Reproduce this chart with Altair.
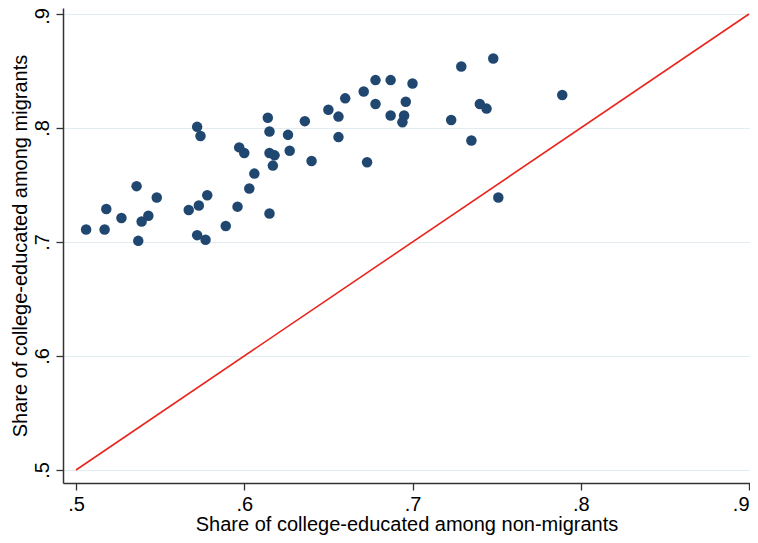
import altair as alt
import pandas as pd

non_migrants = [0.506, 0.517, 0.518, 0.527, 0.536, 0.537, 0.539, 0.543, 0.548, 0.567,
                0.572, 0.572, 0.573, 0.574, 0.577, 0.578, 0.589, 0.596, 0.597, 0.600,
                0.603, 0.606, 0.614, 0.615, 0.615, 0.615, 0.617, 0.618, 0.626, 0.627,
                0.636, 0.640, 0.650, 0.656, 0.656, 0.660, 0.671, 0.673, 0.678, 0.678,
                0.687, 0.687, 0.694, 0.695, 0.696, 0.700, 0.723, 0.729, 0.735, 0.740,
                0.744, 0.748, 0.751, 0.789]
migrants = [0.711, 0.711, 0.729, 0.721, 0.749, 0.701, 0.718, 0.723, 0.739, 0.728,
            0.801, 0.706, 0.732, 0.793, 0.702, 0.741, 0.714, 0.731, 0.783, 0.778,
            0.747, 0.760, 0.809, 0.778, 0.797, 0.725, 0.767, 0.776, 0.794, 0.780,
            0.806, 0.771, 0.816, 0.810, 0.792, 0.826, 0.832, 0.770, 0.842, 0.821,
            0.842, 0.811, 0.805, 0.811, 0.823, 0.839, 0.807, 0.854, 0.789, 0.821,
            0.817, 0.861, 0.739, 0.829]

line_x = [0.5, 0.9]
line_y = [0.5, 0.9]
ticks = [0.5, 0.6, 0.7, 0.8, 0.9]

pts = pd.DataFrame({"x": non_migrants, "y": migrants})
ln = pd.DataFrame({"x": line_x, "y": line_y})

FONT = "Liberation Sans"
label_expr = "replace(format(datum.value, '.1f'), '0.', '.')"

xscale = alt.Scale(domain=[0.49227, 0.90059], nice=False, zero=False)
yscale = alt.Scale(domain=[0.48860, 0.90526], nice=False, zero=False)

xaxis = alt.Axis(values=ticks, labelExpr=label_expr, grid=False,
                 title="Share of college-educated among non-migrants",
                 tickSize=7, labelPadding=4, titlePadding=0,
                 labelAlign=alt.condition("datum.value >= 0.89", alt.value("right"), alt.value("center")),
                 labelFontSize=20, titleFontSize=20, labelFont=FONT, titleFont=FONT,
                 titleFontWeight="normal", labelColor="#000", titleColor="#000",
                 domainColor="#333", tickColor="#333", domainWidth=1.5, tickWidth=1.3)
yaxis = alt.Axis(values=ticks, labelExpr=label_expr, grid=True,
                 gridColor="#e3edf1", gridWidth=1.2,
                 title="Share of college-educated among migrants",
                 tickSize=7, labelPadding=4, titlePadding=2, labelAngle=270,
                 labelAlign="center", labelBaseline="bottom",
                 labelOffset=alt.condition("datum.value >= 0.89", alt.value(2), alt.value(0)),
                 labelFontSize=20, titleFontSize=20, labelFont=FONT, titleFont=FONT,
                 titleFontWeight="normal", labelColor="#000", titleColor="#000",
                 domainColor="#333", tickColor="#333", domainWidth=1.5, tickWidth=1.3)

points = alt.Chart(pts).mark_circle(size=110, color="#1f4770", opacity=1).encode(
    x=alt.X("x:Q", scale=xscale, axis=xaxis),
    y=alt.Y("y:Q", scale=yscale, axis=yaxis),
)
line = alt.Chart(ln).mark_line(color="#e8261e", strokeWidth=1.6, clip=True).encode(
    x=alt.X("x:Q", scale=xscale),
    y=alt.Y("y:Q", scale=yscale),
)

chart = alt.layer(line, points).properties(
    width=687, height=475,
    autosize=alt.AutoSizeParams(type="none"),
    padding={"left": 55, "top": 0, "right": 0, "bottom": 56},
    background="white",
).configure_view(stroke=None)

chart.save("out.html", embed_options={"renderer": "svg", "actions": False})
